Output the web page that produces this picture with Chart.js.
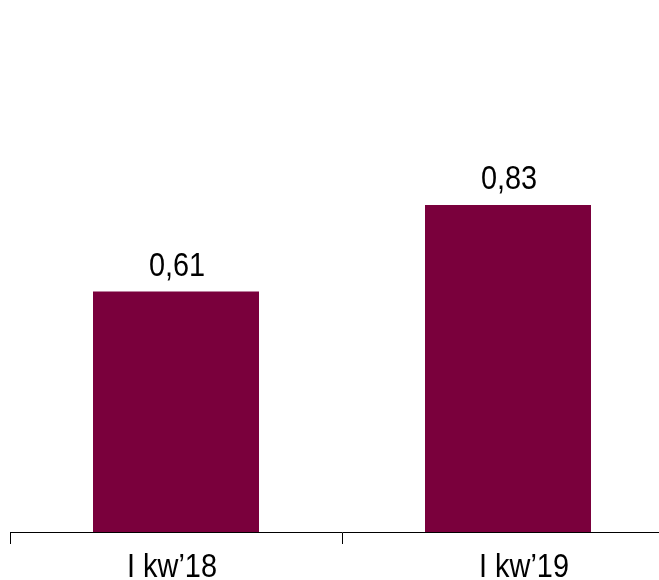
<!DOCTYPE html>
<html>
<head>
<meta charset="utf-8">
<script src="https://cdn.jsdelivr.net/npm/chart.js@4"></script>
<style>
  html, body { margin: 0; padding: 0; background: #fff; overflow: hidden; }
  #wrap { width: 680px; height: 580px; }
</style>
</head>
<body>
<div id="wrap"><canvas id="barChart" width="680" height="580"></canvas></div>
<script>
const categories = ['I kw\u201918', 'I kw\u201919'];
const values = [0.61, 0.83];
const valueLabels = ['0,61', '0,83'];

const barColor = '#7A003C';
const fontFamily = "'Liberation Sans', Arial, sans-serif";
// the source text is slightly condensed
const textFont = '34px ' + fontFamily;
const textSquash = 0.85;
// small nudges of the category labels as in the original
const catLabelShift = [-4, 16];

function drawSquashed(ctx, text, x, y) {
  ctx.save();
  ctx.translate(x, y);
  ctx.scale(textSquash, 1);
  ctx.fillText(text, 0, 0);
  ctx.restore();
}

const textPlugin = {
  id: 'textLabels',
  afterDraw(chart) {
    const ctx = chart.ctx;
    const meta = chart.getDatasetMeta(0);
    const xScale = chart.scales.x;
    ctx.save();
    ctx.font = textFont;
    ctx.fillStyle = '#000';
    ctx.textAlign = 'center';
    ctx.textBaseline = 'alphabetic';
    meta.data.forEach((bar, i) => {
      drawSquashed(ctx, valueLabels[i], bar.x + 1, bar.y - 15.5);
    });
    categories.forEach((c, i) => {
      const x = xScale.getPixelForTick(i) + catLabelShift[i];
      drawSquashed(ctx, c, x, xScale.top + 45);
    });
    ctx.restore();
  }
};

const ctx = document.getElementById('barChart').getContext('2d');
const barChart = new Chart(ctx, {
  type: 'bar',
  data: {
    labels: categories,
    datasets: [{
      data: values,
      backgroundColor: barColor,
      borderWidth: 0,
      categoryPercentage: 1,
      barPercentage: 0.5
    }]
  },
  options: {
    responsive: false,
    animation: false,
    layout: { padding: { left: 10, right: 6, top: 0, bottom: 0 } },
    plugins: {
      legend: { display: false },
      tooltip: { enabled: false }
    },
    scales: {
      x: {
        offset: true,
        border: { display: true, color: '#000', width: 1 },
        grid: {
          offset: true,
          drawOnChartArea: false,
          drawTicks: true,
          tickLength: 12,
          color: '#000'
        },
        ticks: { display: false },
        afterFit(scale) { scale.height = 48; }
      },
      y: {
        display: false,
        min: 0,
        max: 1.35
      }
    }
  },
  plugins: [textPlugin]
});
</script>
</body>
</html>
